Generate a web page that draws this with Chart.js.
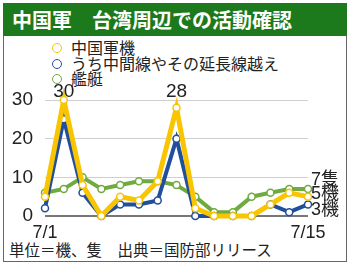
<!DOCTYPE html>
<html>
<head>
<meta charset="utf-8">
<script src="https://cdn.jsdelivr.net/npm/chart.js@4"></script>
<style>
body{margin:0;background:#fff;font-family:"Liberation Sans","Noto Sans CJK JP",sans-serif;}
#wrap{position:relative;width:350px;height:266px;overflow:hidden;background:#fff;}
#box{position:absolute;left:3px;top:3px;width:342px;height:257px;border:1px solid #666;}
#title{position:absolute;left:3px;top:3px;width:344px;height:33px;background:#1c7a1c;color:#fff;font-weight:bold;font-size:20px;line-height:33px;padding-left:9px;box-sizing:border-box;font-family:"Noto Sans CJK JP",sans-serif;}
#legend{position:absolute;left:52px;top:40px;font-size:16px;line-height:15.5px;color:#222;font-family:"Noto Sans CJK JP",sans-serif;}
#legend div{white-space:nowrap;}
#legend span.dot{display:inline-block;box-sizing:border-box;width:10px;height:10px;border-radius:50%;border:1.5px solid;background:#fff;margin-right:9px;vertical-align:1px;}
#foot{position:absolute;left:9px;top:238px;font-size:15.5px;color:#222;font-family:"Noto Sans CJK JP",sans-serif;white-space:pre;}
canvas{position:absolute;left:0;top:0;}
</style>
</head>
<body>
<div id="wrap">
  <div id="box"></div>
  <div id="title">中国軍　台湾周辺での活動確認</div>
  <div id="legend"></div>
  <div id="foot">単位＝機、隻　出典＝国防部リリース</div>
  <canvas id="myChart" width="350" height="266"></canvas>
</div>
<script>
// 7月1日〜15日
const days = ["7/1","7/2","7/3","7/4","7/5","7/6","7/7","7/8","7/9","7/10","7/11","7/12","7/13","7/14","7/15"];
const seriesNames = ["中国軍機","うち中間線やその延長線越え","艦艇"];
const jets = [5,30,8,0,5,4,9,28,2,0,0,0,3,6,5];
const crossed = [2,25,6,0,3,3,4,20,0,0,0,0,3,1,3];
const ships = [6,7,10,7,8,9,9,8,5,1,1,5,6,7,7];
const yTicks = [0,10,20,30];
const endLabels = ["5機","3機","7隻"];

const colors = ["#f9c500","#224f9c","#6fab3e"];

// legend (html)
let lg = document.getElementById("legend");
seriesNames.forEach(function(n,i){
  let d = document.createElement("div");
  d.innerHTML = '<span class="dot" style="border-color:'+colors[i]+'"></span>' + n;
  lg.appendChild(d);
});

const numFont = '"Liberation Sans","Noto Sans CJK JP",sans-serif';

const labelPlugin = {
  id: "labels",
  afterDatasetsDraw: function(chart){
    let c = chart.ctx;
    let xs = chart.scales.x, ys = chart.scales.y;
    c.save();
    c.fillStyle = "#222";
    c.font = "19px " + numFont;
    c.textAlign = "center";
    c.textBaseline = "middle";
    // peak labels
    [1,7].forEach(function(i){
      c.fillText(String(jets[i]), xs.getPixelForValue(i), ys.getPixelForValue(yTicks[yTicks.length-1]) - 8);
    });
    // end labels
    let last = days.length - 1;
    let x = xs.getPixelForValue(last) + 3;
    c.textAlign = "left";
    c.font = "18px " + numFont;
    c.fillText(endLabels[2], x, ys.getPixelForValue(ships[last]) - 9);
    c.fillText(endLabels[0], x, ys.getPixelForValue(jets[last]) - 3);
    c.fillText(endLabels[1], x, ys.getPixelForValue(crossed[last]) + 6);
    c.restore();
  }
};

function ds(label, data, color, w){
  return {
    label: label,
    data: data,
    borderColor: color,
    backgroundColor: color,
    borderWidth: w,
    pointRadius: 3.5,
    pointBackgroundColor: "#fff",
    pointBorderColor: color,
    pointBorderWidth: 1.5,
    tension: 0,
    clip: false
  };
}

var ctx = document.getElementById("myChart");
var myChart = new Chart(ctx, {
  type: "line",
  data: {
    labels: days,
    datasets: [
      ds(seriesNames[0], jets, colors[0], 5),
      ds(seriesNames[1], crossed, colors[1], 4),
      ds(seriesNames[2], ships, colors[2], 4)
    ]
  },
  options: {
    responsive: false,
    animation: false,
    events: [],
    layout: { padding: { left: 0, right: 42, top: 100, bottom: 28 } },
    plugins: { legend: { display: false }, tooltip: { enabled: false } },
    scales: {
      x: {
        offset: false,
        border: { display: false },
        grid: { display: false, drawTicks: false },
        ticks: {
          autoSkip: false,
          maxRotation: 0,
          padding: 6,
          color: "#222",
          font: { size: 18, family: numFont },
          callback: function(v, i){ return (i === 0 || i === days.length - 1) ? days[i] : ""; }
        },
        afterFit: function(s){ s.height = 22; }
      },
      y: {
        min: yTicks[0],
        max: yTicks[yTicks.length-1],
        border: { display: false },
        grid: {
          drawTicks: false,
          color: function(c){ return c.tick && c.tick.value === 0 ? "#777" : "#cfcfcf"; },
          lineWidth: function(c){ return c.tick && c.tick.value === 0 ? 2 : 1; }
        },
        afterBuildTicks: function(s){ s.ticks = yTicks.map(function(v){ return {value: v}; }); },
        ticks: {
          padding: 12,
          color: "#222",
          font: { size: 19, family: numFont }
        },
        afterFit: function(s){ s.width = 45; }
      }
    }
  },
  plugins: [labelPlugin]
});
// 上に黄色を描くので順番を逆に
myChart.data.datasets.forEach(function(d, i){ d.order = i; });
myChart.update();
</script>
</body>
</html>
